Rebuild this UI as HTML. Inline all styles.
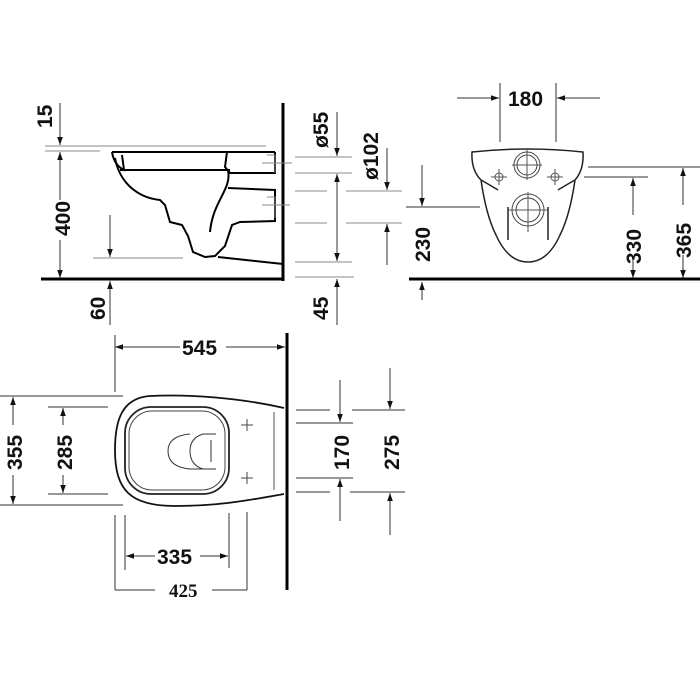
<!DOCTYPE html>
<html><head><meta charset="utf-8"><style>
html,body{margin:0;padding:0;background:#fff;}
svg{display:block;}
text{font-family:"Liberation Sans",Arial,sans-serif;font-weight:bold;font-size:21px;fill:#111;}
.s{font-family:"Liberation Serif",serif;}
</style></head><body>
<svg width="700" height="700" viewBox="0 0 700 700" xmlns="http://www.w3.org/2000/svg">
<defs>
<marker id="a" viewBox="0 0 10 10" refX="10" refY="5" markerWidth="8" markerHeight="8" orient="auto-start-reverse" markerUnits="userSpaceOnUse"><path d="M0,1.5 L10,5 L0,8.5 z" fill="#111"/></marker>
</defs>
<g stroke="#333" stroke-width="1" fill="none">
<!-- SIDE VIEW -->
<line x1="45" y1="146" x2="266" y2="146" stroke="#888"/>
<line x1="45" y1="151" x2="100" y2="151" stroke="#888"/>
<line x1="60" y1="103" x2="60" y2="145" marker-end="url(#a)"/>
<line x1="60" y1="152" x2="60" y2="200" marker-start="url(#a)"/>
<line x1="60" y1="240" x2="60" y2="278" marker-end="url(#a)"/>
<line x1="110" y1="325" x2="110" y2="281" marker-end="url(#a)"/>
<line x1="110" y1="215" x2="110" y2="257" marker-end="url(#a)"/>
<line x1="93" y1="258" x2="183" y2="258" stroke="#888"/>
<line x1="283" y1="103" x2="283" y2="281" stroke="#000" stroke-width="3"/>
<line x1="41" y1="279" x2="284" y2="279" stroke="#000" stroke-width="3"/>
<g stroke="#000" stroke-width="2">
<path d="M112,152 L275,152"/>
<path d="M112,152 Q114,165 124,170 L122,155"/>
<path d="M120,170 L230,170"/>
<path d="M115,158 C120,185 140,198 160,200 L165,205 L170,222 L182,225 L188,236 L193,252 L205,257 L215,256 L225,246 L232,225 L240,222 L275,221 L275,190 L228,188"/>
<path d="M228,170 C232,190 213,200 210,232"/>
<path d="M227,152 L225,167 L230,173 L275,173 L275,152"/>
<path d="M218,257 L283,264"/>
</g>
<line x1="262" y1="163" x2="292" y2="163" stroke="#888"/>
<line x1="262" y1="205" x2="290" y2="205" stroke="#888"/>
<path d="M267,155 h8 v18 M267,197 h8 v21" stroke="#888"/>
<line x1="295" y1="157" x2="352" y2="157" stroke="#888"/>
<line x1="295" y1="173" x2="352" y2="173" stroke="#888"/>
<line x1="295" y1="191" x2="327" y2="191" stroke="#888"/>
<line x1="346" y1="191" x2="402" y2="191" stroke="#888"/>
<line x1="295" y1="223" x2="327" y2="223" stroke="#888"/>
<line x1="346" y1="223" x2="402" y2="223" stroke="#888"/>
<line x1="295" y1="262" x2="352" y2="262" stroke="#888"/>
<line x1="295" y1="277" x2="354" y2="277" stroke="#888"/>
<line x1="337" y1="112" x2="337" y2="156" marker-end="url(#a)"/>
<line x1="337" y1="174" x2="337" y2="261" marker-start="url(#a)" marker-end="url(#a)"/>
<line x1="337" y1="325" x2="337" y2="279" marker-end="url(#a)"/>
<line x1="387" y1="148" x2="387" y2="190" marker-end="url(#a)"/>
<line x1="387" y1="265" x2="387" y2="224" marker-end="url(#a)"/>
<!-- FRONT VIEW -->
<line x1="500" y1="83" x2="500" y2="142"/>
<line x1="556" y1="83" x2="556" y2="142"/>
<line x1="457" y1="98" x2="499" y2="98" marker-end="url(#a)"/>
<line x1="600" y1="98" x2="557" y2="98" marker-end="url(#a)"/>
<g stroke="#222" stroke-width="1.5">
<path d="M472,152 Q527,146 583,152 Q584,170 575,180 Q570,215 560,235 Q548,262 528,262 Q508,262 496,235 Q486,215 481,180 Q471,170 472,152 z"/>
<path d="M481,180 Q490,185 498,190 M575,180 Q566,185 558,190"/>
<path d="M508,207 L508,240 M548,207 L548,240"/>
</g>
<circle cx="527" cy="165" r="13" stroke="#444"/><circle cx="527" cy="165" r="10" stroke="#444"/>
<circle cx="528" cy="210" r="16" stroke="#444"/><circle cx="528" cy="210" r="12" stroke="#444"/>
<path d="M512,165 h30 M527,150 v30 M508,210 h40 M528,192 v40 M491,177 h16 M499,169 v16 M547,177 h16 M555,169 v16" stroke="#555"/>
<circle cx="499" cy="177" r="4" stroke="#555"/><circle cx="555" cy="177" r="4" stroke="#555"/>
<line x1="588" y1="167" x2="700" y2="167"/>
<line x1="584" y1="177" x2="648" y2="177"/>
<line x1="406" y1="207" x2="480" y2="207"/>
<line x1="422" y1="165" x2="422" y2="206" marker-end="url(#a)"/>
<line x1="422" y1="300" x2="422" y2="282" marker-end="url(#a)"/>
<line x1="633" y1="178" x2="633" y2="215" marker-start="url(#a)"/>
<line x1="633" y1="260" x2="633" y2="278" marker-end="url(#a)"/>
<line x1="683" y1="168" x2="683" y2="205" marker-start="url(#a)"/>
<line x1="683" y1="255" x2="683" y2="278" marker-end="url(#a)"/>
<line x1="409" y1="279" x2="700" y2="279" stroke="#000" stroke-width="3"/>
<!-- TOP VIEW -->
<line x1="287" y1="333" x2="287" y2="590" stroke="#000" stroke-width="3"/>
<line x1="115" y1="335" x2="115" y2="392"/>
<line x1="115" y1="347" x2="180" y2="347" marker-start="url(#a)"/>
<line x1="226" y1="347" x2="285" y2="347" marker-end="url(#a)"/>
<path d="M284,408 C240,398 190,394 150,396 C122,398 115,420 115,450 C115,490 130,506 175,506 C220,506 250,500 284,494" stroke="#111" stroke-width="1.8"/>
<rect x="125" y="407" width="104" height="87" rx="26" stroke="#222" stroke-width="1.8"/>
<rect x="129" y="411" width="96" height="79" rx="23" stroke="#444"/>
<path d="M190,434 Q168,436 168,451 Q168,467 190,469 L216,469 M203,434 Q190,438 190,451 Q190,465 203,469 M203,434 L216,434 M211,440 L211,462" stroke="#333"/>
<path d="M241,425 h12 M247,419 v12 M241,478 h12 M247,472 v12" stroke="#444"/>
<line x1="274" y1="412" x2="274" y2="490" stroke="#555"/>
<line x1="0" y1="396" x2="123" y2="396"/>
<line x1="0" y1="505" x2="123" y2="505"/>
<line x1="13" y1="397" x2="13" y2="425" marker-start="url(#a)"/>
<line x1="13" y1="475" x2="13" y2="504" marker-end="url(#a)"/>
<line x1="48" y1="407" x2="108" y2="407"/>
<line x1="48" y1="494" x2="108" y2="494"/>
<line x1="63" y1="408" x2="63" y2="425" marker-start="url(#a)"/>
<line x1="63" y1="475" x2="63" y2="493" marker-end="url(#a)"/>
<line x1="125" y1="515" x2="125" y2="570"/>
<line x1="229" y1="513" x2="229" y2="568"/>
<line x1="126" y1="556" x2="155" y2="556" marker-start="url(#a)"/>
<line x1="200" y1="556" x2="228" y2="556" marker-end="url(#a)"/>
<line x1="115" y1="515" x2="115" y2="590"/>
<line x1="247" y1="512" x2="247" y2="590"/>
<line x1="115" y1="590" x2="155" y2="590"/>
<line x1="212" y1="590" x2="247" y2="590"/>
<line x1="296" y1="410" x2="330" y2="410"/>
<line x1="296" y1="423" x2="353" y2="423"/>
<line x1="296" y1="478" x2="353" y2="478"/>
<line x1="296" y1="492" x2="330" y2="492"/>
<line x1="352" y1="410" x2="405" y2="410"/>
<line x1="350" y1="492" x2="405" y2="492"/>
<line x1="340" y1="380" x2="340" y2="422" marker-end="url(#a)"/>
<line x1="340" y1="521" x2="340" y2="479" marker-end="url(#a)"/>
<line x1="390" y1="368" x2="390" y2="409" marker-end="url(#a)"/>
<line x1="390" y1="535" x2="390" y2="493" marker-end="url(#a)"/>
</g>
<g>
<text transform="translate(52,128) rotate(-90)">15</text>
<text transform="translate(70,236) rotate(-90)">400</text>
<text transform="translate(105,320) rotate(-90)">60</text>
<text transform="translate(328,148) rotate(-90)">ø55</text>
<text transform="translate(378,180) rotate(-90)">ø102</text>
<text transform="translate(328,320) rotate(-90)">45</text>
<text transform="translate(430,262) rotate(-90)">230</text>
<text x="508" y="106">180</text>
<text transform="translate(641,264) rotate(-90)">330</text>
<text transform="translate(691,258) rotate(-90)">365</text>
<text x="182" y="355">545</text>
<text transform="translate(22,470) rotate(-90)">355</text>
<text transform="translate(72,470) rotate(-90)">285</text>
<text x="157" y="564">335</text>
<text class="s" x="169" y="597" style="font-size:19px">425</text>
<text transform="translate(349,470) rotate(-90)">170</text>
<text transform="translate(399,470) rotate(-90)">275</text>
</g>
</svg>
</body></html>
